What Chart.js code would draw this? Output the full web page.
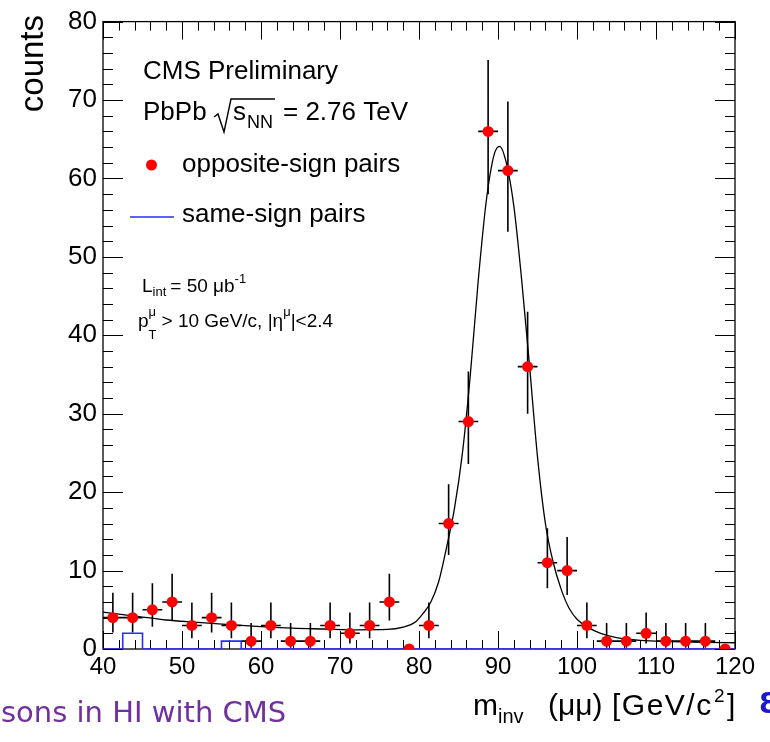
<!DOCTYPE html>
<html>
<head>
<meta charset="utf-8">
<script src="https://cdn.jsdelivr.net/npm/chart.js@4.4.1/dist/chart.umd.min.js"></script>
<style>
  html, body { margin: 0; padding: 0; background: #fff; }
  canvas { display: block; }
</style>
</head>
<body>
<canvas id="c" width="770" height="742"></canvas>
<script>
// Dimuon invariant-mass spectrum, 2.5 GeV/c^2 bins between 40 and 120 GeV/c^2
const massCenters = [41.25, 43.75, 46.25, 48.75, 51.25, 53.75, 56.25, 58.75,
  61.25, 63.75, 66.25, 68.75, 71.25, 73.75, 76.25, 78.75,
  81.25, 83.75, 86.25, 88.75, 91.25, 93.75, 96.25, 98.75,
  101.25, 103.75, 106.25, 108.75, 111.25, 113.75, 116.25, 118.75];
const halfBin = 1.25;

// opposite-sign pair counts per bin
const oppositeSign = [4, 4, 5, 6, 3, 4, 3, 1, 3, 1, 1, 3, 2, 3, 6, 0,
  3, 16, 29, 66, 61, 36, 11, 10, 3, 1, 1, 2, 1, 1, 1, 0];
// lower / upper ends of the Poisson error bars
const errLow = [2.09, 2.09, 2.84, 3.62, 1.37, 2.09, 1.37, 0.17, 1.37, 0.17, 0.17, 1.37, 0.71, 1.37, 3.62, 0,
  1.37, 12.0, 23.6, 58.0, 53.2, 30.0, 7.74, 6.89, 1.37, 0.17, 0.17, 0.71, 0.17, 0.17, 0.17, 0];
const errHigh = [7.16, 7.16, 8.38, 9.58, 5.92, 7.16, 5.92, 3.30, 5.92, 3.30, 3.30, 5.92, 4.64, 5.92, 9.58, 0,
  5.92, 21.0, 35.4, 75.1, 69.8, 43.0, 15.41, 14.27, 5.92, 3.30, 3.30, 4.64, 3.30, 3.30, 3.30, 0];

// same-sign pair counts per bin
const sameSign = [0, 2, 0, 0, 0, 0, 1, 0, 0, 0, 0, 0, 0, 0, 0, 0,
  0, 0, 0, 0, 0, 0, 0, 0, 0, 0, 0, 0, 0, 0, 0, 0];

// signal + background fit curve
const fitMass = [40, 44, 48, 52, 56, 60, 64, 68, 72, 76, 78, 79.5, 80.5, 81.5, 82.5, 83.5, 84.5, 85.5,
  86.5, 87.5, 88.5, 89.5, 90.2, 91, 92, 93, 94, 95, 96, 97, 98, 99, 100, 101.5, 103, 105, 108, 112, 116, 120];
const fitCounts = [4.7, 4.2, 3.7, 3.4, 3.1, 2.85, 2.65, 2.55, 2.45, 2.5, 2.8, 3.4, 4.5, 6.0, 8.6, 13, 18, 25,
  35, 47, 57, 63, 64.1, 62.2, 56.5, 47, 36, 24.5, 16, 11, 7.6, 5.2, 3.8, 2.7, 2.0, 1.45, 1.1, 0.95, 0.85, 0.8];

// axis ranges and tick spacing
const xRange = [40, 120];
const yRange = [0, 80];
const majorStep = 10;
const minorStep = 2;

const FONT = '"Liberation Sans", Arial, Helvetica, sans-serif';
const SLIDE_FONT = '"DejaVu Sans", Verdana, sans-serif';

const pointData = massCenters.map((m, i) => ({ x: m, y: oppositeSign[i] }));
const histData = [];
massCenters.forEach((m, i) => {
  histData.push({ x: m - halfBin, y: sameSign[i] });
  histData.push({ x: m + halfBin, y: sameSign[i] });
});
const fitData = fitMass.map((m, i) => ({ x: m, y: fitCounts[i] }));

// draws a sequence of text runs (for sub/superscripts)
function drawRuns(ctx, x, y, parts, color) {
  ctx.save();
  ctx.fillStyle = color || '#000';
  ctx.textAlign = 'left';
  ctx.textBaseline = 'alphabetic';
  let cx = x;
  for (const p of parts) {
    ctx.font = (p.bold ? 'bold ' : '') + p.size + 'px ' + (p.family || FONT);
    if ('letterSpacing' in ctx) ctx.letterSpacing = (p.spacing || 0) + 'px';
    const px = p.at !== undefined ? p.at : cx;
    ctx.fillText(p.t, px, y + (p.dy || 0));
    const w = ctx.measureText(p.t).width;
    if (!p.stack) cx = px + w + (p.gap || 0);
  }
  ctx.restore();
}

// frame, inward ticks and error bars
const framePlugin = {
  id: 'frame',
  beforeDatasetsDraw(chart) {
    const { ctx, chartArea: a, scales: { x, y } } = chart;
    ctx.save();
    ctx.strokeStyle = '#000';
    ctx.lineWidth = 1.3;
    ctx.strokeRect(a.left, a.top, a.right - a.left, a.bottom - a.top);

    ctx.lineWidth = 1;
    ctx.beginPath();
    for (let v = yRange[0]; v <= yRange[1] + 1e-9; v += minorStep) {
      const py = Math.round(y.getPixelForValue(v)) + 0.5;
      const len = (Math.abs(v % majorStep) < 1e-9) ? 20 : 10;
      ctx.moveTo(a.left, py); ctx.lineTo(a.left + len, py);
      ctx.moveTo(a.right, py); ctx.lineTo(a.right - len, py);
    }
    for (let v = xRange[0]; v <= xRange[1] + 1e-9; v += minorStep) {
      const px = Math.round(x.getPixelForValue(v)) + 0.5;
      const len = (Math.abs(v % majorStep) < 1e-9) ? 18 : 9;
      ctx.moveTo(px, a.bottom); ctx.lineTo(px, a.bottom - len);
      ctx.moveTo(px, a.top); ctx.lineTo(px, a.top + len);
    }
    ctx.stroke();

    // error bars of the opposite-sign points
    ctx.lineWidth = 1.6;
    ctx.strokeStyle = '#000';
    ctx.beginPath();
    massCenters.forEach((m, i) => {
      if (oppositeSign[i] <= 0) return;
      const cx = x.getPixelForValue(m);
      const cy = y.getPixelForValue(oppositeSign[i]);
      ctx.moveTo(cx, y.getPixelForValue(errLow[i]));
      ctx.lineTo(cx, y.getPixelForValue(errHigh[i]));
      ctx.moveTo(x.getPixelForValue(m - halfBin), cy);
      ctx.lineTo(x.getPixelForValue(m + halfBin), cy);
    });
    ctx.stroke();
    ctx.restore();
  },
  afterDraw(chart) {
    const ctx = chart.ctx;
    ctx.save();

    // y-axis title
    ctx.save();
    ctx.translate(43, 15);
    ctx.rotate(-Math.PI / 2);
    ctx.font = '33px ' + FONT;
    ctx.fillStyle = '#000';
    ctx.textAlign = 'right';
    ctx.textBaseline = 'alphabetic';
    ctx.fillText('counts', 0, 0);
    ctx.restore();

    // x-axis title
    drawRuns(ctx, 473, 715, [
      { t: 'm', size: 30, at: 473 },
      { t: 'inv', size: 20, at: 498, dy: 8 },
      { t: '(\u03bc\u03bc)', size: 30, at: 548 },
      { t: '[GeV/c', size: 30, at: 612, spacing: 1.5 },
      { t: '2', size: 19, at: 714, dy: -13 },
      { t: ']', size: 30, at: 727 }
    ]);

    // legend / labels
    drawRuns(ctx, 143, 79, [{ t: 'CMS Preliminary', size: 26 }]);
    drawRuns(ctx, 143, 120, [
      { t: 'PbPb', size: 26, at: 143 },
      { t: 's', size: 26, at: 233 },
      { t: 'NN', size: 18, at: 247, dy: 8 },
      { t: '= 2.76 TeV', size: 26, at: 283 }
    ]);
    ctx.strokeStyle = '#000';
    ctx.lineWidth = 1.4;
    ctx.beginPath();
    ctx.moveTo(214, 117);
    ctx.lineTo(218, 114);
    ctx.lineTo(224, 132);
    ctx.lineTo(231, 99);
    ctx.lineTo(275, 99);
    ctx.stroke();

    ctx.fillStyle = '#ff0000';
    ctx.beginPath();
    ctx.arc(151.5, 165, 5.5, 0, Math.PI * 2);
    ctx.fill();
    drawRuns(ctx, 182, 172, [{ t: 'opposite-sign pairs', size: 26 }]);

    ctx.strokeStyle = '#2b2bff';
    ctx.lineWidth = 1.5;
    ctx.beginPath();
    ctx.moveTo(130, 217);
    ctx.lineTo(174, 217);
    ctx.stroke();
    drawRuns(ctx, 182, 222, [{ t: 'same-sign pairs', size: 26 }]);

    drawRuns(ctx, 142, 292, [
      { t: 'L', size: 19 },
      { t: 'int', size: 13, dy: 4, gap: 4 },
      { t: '= 50 \u03bcb', size: 19 },
      { t: '-1', size: 13, dy: -9 }
    ]);
    drawRuns(ctx, 138, 327, [
      { t: 'p', size: 19, gap: 0 },
      { t: '\u03bc', size: 13, dy: -11, stack: true },
      { t: 'T', size: 13, dy: 12, gap: 5 },
      { t: '> 10 GeV/c, |\u03b7', size: 19 },
      { t: '\u03bc', size: 13, dy: -11 },
      { t: '|<2.4', size: 19 }
    ]);

    // footer text
    drawRuns(ctx, 1, 722, [{ t: 'sons in HI with CMS', size: 29, family: SLIDE_FONT }], '#7030a0');
    drawRuns(ctx, 759, 713, [{ t: '8', size: 28, bold: true, family: SLIDE_FONT }], '#1a1acc');
    ctx.restore();
  }
};

new Chart(document.getElementById('c'), {
  type: 'scatter',
  data: {
    datasets: [
      {
        label: 'opposite-sign pairs',
        data: pointData,
        showLine: false,
        pointRadius: 5.5,
        pointBackgroundColor: '#ff0000',
        pointBorderWidth: 0,
        pointBorderColor: '#ff0000',
        order: 0
      },
      {
        label: 'fit',
        data: fitData,
        showLine: true,
        borderColor: '#000',
        borderWidth: 1.3,
        pointRadius: 0,
        cubicInterpolationMode: 'monotone',
        fill: false,
        order: 1
      },
      {
        label: 'same-sign pairs',
        data: histData,
        showLine: true,
        borderColor: '#2b2bff',
        borderWidth: 1.6,
        pointRadius: 0,
        tension: 0,
        fill: false,
        order: 2
      }
    ]
  },
  options: {
    responsive: false,
    animation: false,
    events: [],
    layout: { padding: { left: 0, top: 16, right: 35, bottom: 0 } },
    plugins: { legend: { display: false }, tooltip: { enabled: false } },
    scales: {
      x: {
        type: 'linear',
        min: xRange[0], max: xRange[1],
        grid: { display: false, drawTicks: false },
        border: { display: false },
        ticks: { stepSize: majorStep, padding: 4, color: '#000', font: { family: FONT, size: 24 }, maxRotation: 0 },
        afterFit(s) { s.height = 93; }
      },
      y: {
        type: 'linear',
        min: yRange[0], max: yRange[1],
        grid: { display: false, drawTicks: false },
        border: { display: false },
        ticks: { stepSize: majorStep, padding: 6, color: '#000', font: { family: FONT, size: 26 } },
        afterFit(s) { s.width = 103; }
      }
    }
  },
  plugins: [framePlugin]
});
</script>
</body>
</html>
